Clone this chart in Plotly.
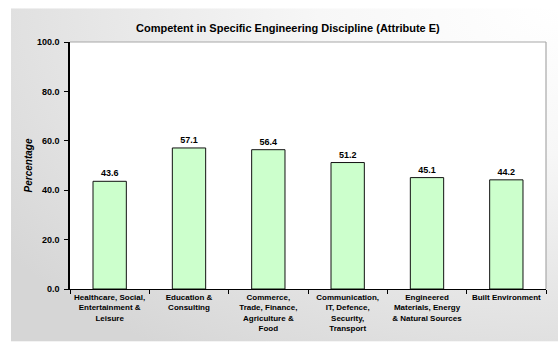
import base64
import plotly.graph_objects as go

# Survey results: share of respondents rating graduates competent (Attribute E)
categories = [
    "Healthcare, Social,<br>Entertainment &<br>Leisure",
    "Education &<br>Consulting",
    "Commerce,<br>Trade, Finance,<br>Agriculture &<br>Food",
    "Communication,<br>IT, Defence,<br>Security,<br>Transport",
    "Engineered<br>Materials, Energy<br>& Natural Sources",
    "Built Environment",
]
percentages = [43.6, 57.1, 56.4, 51.2, 45.1, 44.2]
y_ticks = [0, 20, 40, 60, 80, 100]
y_tick_text = ["0.0", "20.0", "40.0", "60.0", "80.0", "100.0"]

W, H = 558, 345
L, R, T, B = 70, 12, 42, 54
pw, ph = W - L - R, H - T - B

# Soft grey background panel, lightest at the top-right corner
svg = (
    '<svg xmlns="http://www.w3.org/2000/svg" width="547" height="337" '
    'preserveAspectRatio="none">'
    '<defs><radialGradient id="g" cx="1" cy="0" r="1.25" '
    'gradientUnits="objectBoundingBox">'
    '<stop offset="0" stop-color="#ffffff"/>'
    '<stop offset="0.35" stop-color="#f7f7f7"/>'
    '<stop offset="1" stop-color="#d6d6d6"/>'
    '</radialGradient></defs>'
    '<rect width="547" height="337" fill="url(#g)"/></svg>'
)
bg_src = "data:image/svg+xml;base64," + base64.b64encode(svg.encode()).decode()

fig = go.Figure(
    go.Bar(
        x=categories,
        y=percentages,
        width=0.42,
        marker=dict(color="#CCFFCC", line=dict(color="#111111", width=1)),
        text=[f"{v:.1f}" for v in percentages],
        texttemplate="<b>%{text}</b>",
        textposition="outside",
        textfont=dict(family="Arial", size=9, color="#000000"),
        cliponaxis=False,
    )
)

# Panel background in paper coordinates
x0 = (11 - L) / pw
y_top = (H - B - 8) / ph
fig.add_layout_image(
    source=bg_src, xref="paper", yref="paper",
    x=x0, y=y_top, sizex=(W - 11) / pw, sizey=(H - 8 - 1) / ph,
    xanchor="left", yanchor="top", sizing="stretch", layer="below",
)
# White plot area with grey top/right frame
fig.add_shape(type="rect", xref="paper", yref="paper", x0=0, x1=1, y0=0, y1=1,
              fillcolor="white", line=dict(width=0), layer="below")
fig.add_shape(type="line", xref="paper", yref="paper", x0=0, x1=1, y0=1, y1=1,
              line=dict(color="#a8a8a8", width=1.2), layer="below")
fig.add_shape(type="line", xref="paper", yref="paper", x0=1, x1=1, y0=0, y1=1,
              line=dict(color="#a8a8a8", width=1.2), layer="below")

fig.update_layout(
    width=W, height=H,
    margin=dict(l=L, r=R, t=T, b=B),
    paper_bgcolor="white",
    plot_bgcolor="rgba(0,0,0,0)",
    showlegend=False,
    bargap=0.58,
    font=dict(family="Arial", color="#000000"),
    title=dict(
        text="<b>Competent in Specific Engineering Discipline (Attribute E)</b>",
        font=dict(family="Arial", size=11, color="#000000"),
        x=0.516, xref="container", xanchor="center",
        y=1 - 28 / H, yref="container", yanchor="middle",
    ),
    xaxis=dict(
        type="category",
        tickson="boundaries",
        tickvals=categories,
        ticktext=[f"<b>{c}</b>" for c in categories],
        ticks="outside", ticklen=4, tickcolor="#000000", tickwidth=1,
        showline=True, linecolor="#000000", linewidth=1.2,
        showgrid=False,
        tickfont=dict(family="Arial", size=8, color="#000000"),
        tickangle=0,
    ),
    yaxis=dict(
        range=[0, 100],
        tickvals=y_ticks, ticktext=[f"<b>{t}</b>" for t in y_tick_text],
        ticks="outside", ticklen=4, tickcolor="#000000", tickwidth=1,
        ticklabelstandoff=3,
        showline=True, linecolor="#000000", linewidth=1.5,
        showgrid=False, zeroline=False,
        tickfont=dict(family="Arial", size=9, color="#000000"),
        title=dict(text="<b><i>Percentage</i></b>",
                   font=dict(family="Arial", size=10, color="#000000"),
                   standoff=2),
    ),
)

fig.write_html("out.html")
